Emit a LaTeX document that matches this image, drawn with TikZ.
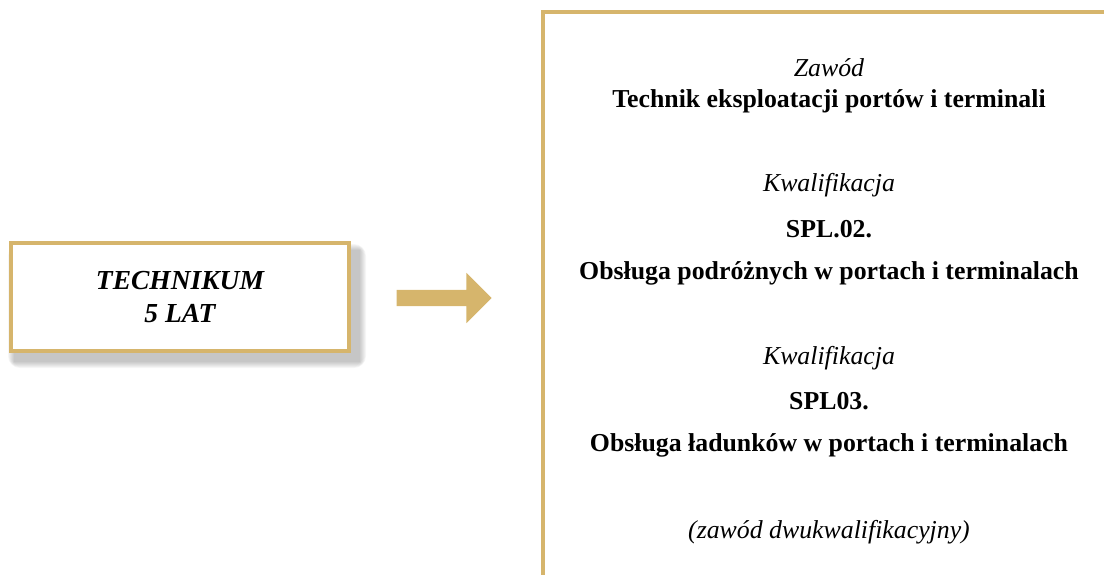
\documentclass[tikz,border=0pt]{standalone}
\usepackage{fontspec}
\setmainfont{Liberation Serif}
\usetikzlibrary{shapes.arrows}
\definecolor{gold}{RGB}{214,181,108}
\tikzset{
	goldbox/.style={draw=gold, line width=4pt, fill=white, minimum width=338pt, minimum height=108pt, align=center},
	kind/.style={font=\fontsize{25.8}{29}\selectfont\itshape},
	title/.style={font=\fontsize{25.8}{29}\selectfont\bfseries},
}
\begin{document}
\begin{tikzpicture}[x=1pt, y=-1pt]
	\useasboundingbox (0,0) rectangle (1104,574);
	
	% soft shadow under the left box
	\foreach \s in {0,2,...,12}{
		\fill[black, opacity=0.035, rounded corners=\s pt] (14-\s/2,250-\s/2) rectangle (360+\s/2,362+\s/2);
	}
	\node[goldbox, font=\fontsize{27.5}{33}\selectfont\bfseries\itshape] (school) at (180,297) {TECHNIKUM\\5 LAT};
	
	\node[single arrow, fill=gold, draw=none, minimum height=95pt, inner xsep=0pt, inner ysep=8pt,
		single arrow head extend=17pt, single arrow head indent=0pt] (arrow) at (440,298) {};
	
	% right frame, only top and left edge on the page
	\draw[gold, line width=4pt] (543,580) -- (543,12) -- (1110,12);
	
	\node[kind] (job) at (829,68) {Zawód};
	\node[title] (jobname) at (829,101) {Technik eksploatacji portów i terminali};
	
	\node[kind] (q1) at (829,185) {Kwalifikacja};
	\node[title] (q1code) at (829,229) {SPL.02.};
	\node[title] (q1name) at (829,273) {Obsługa podróżnych w portach i terminalach};
	
	\node[kind] (q2) at (829,358) {Kwalifikacja};
	\node[title] (q2code) at (829,401) {SPL03.};
	\node[title] (q2name) at (829,445) {Obsługa ładunków w portach i terminalach};
	
	\node[kind] (note) at (829,532) {(zawód dwukwalifikacyjny)};
\end{tikzpicture}
\end{document}
